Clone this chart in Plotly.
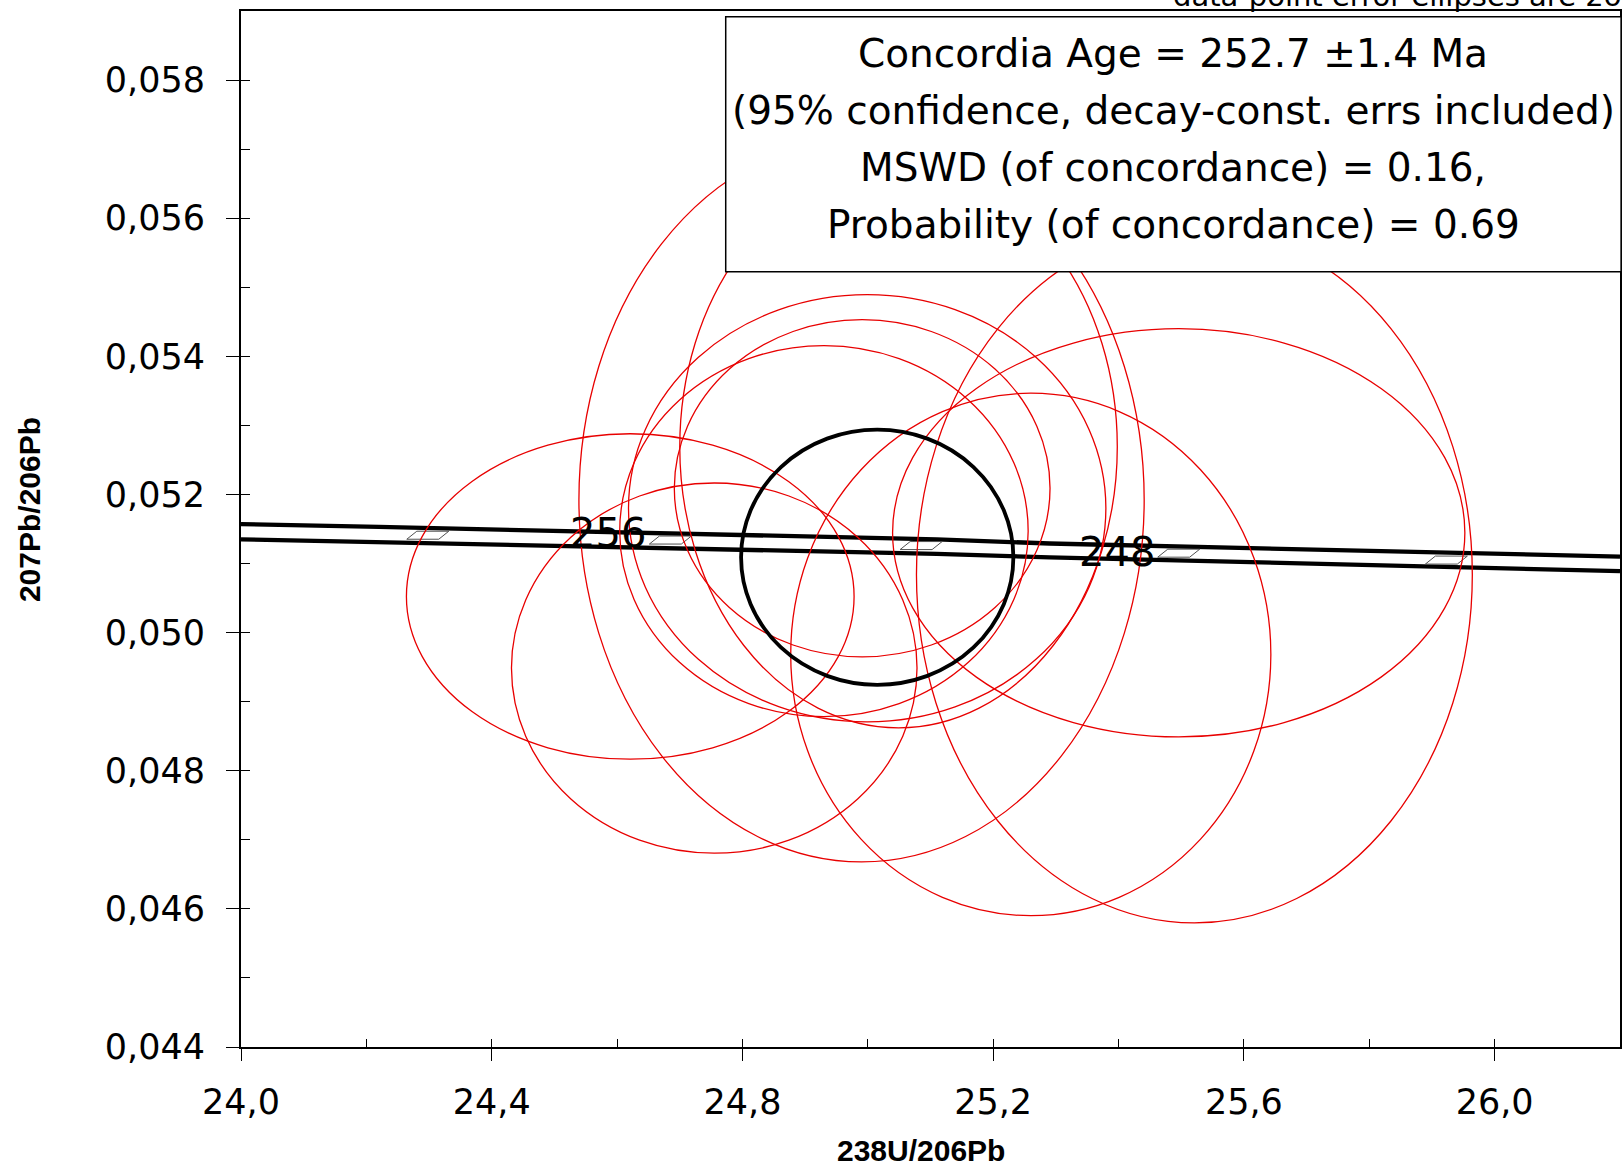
import plotly.graph_objects as go

# ---------------- data ----------------
# Concordia band (decay-constant error envelope), 238U/206Pb vs 207Pb/206Pb
conc_x = [24.0, 24.22, 25.11, 25.29, 26.2]
conc_upper = [0.05157, 0.05153, 0.05135, 0.05129, 0.05110]
conc_lower = [0.05135, 0.05131, 0.05114, 0.05109, 0.05089]

# Age tick marks on the concordia (Ma)
age_values = [260, 256, 252, 248, 244]
age_x = [24.298, 24.685, 25.085, 25.496, 25.923]
age_y = [0.05141, 0.05134, 0.05126, 0.05115, 0.05105]
age_labelled = [256, 248]

# Data-point error ellipses (centre, semi-axes)
ell_cx = [24.621, 24.755, 24.990, 25.049, 24.999, 24.991, 24.930, 25.260, 25.521, 25.496]
ell_cy = [0.050523, 0.049486, 0.051923, 0.052691, 0.051800, 0.052090, 0.051469, 0.049684, 0.050837, 0.051445]
ell_rx = [0.3571, 0.3235, 0.4509, 0.3490, 0.3808, 0.2997, 0.3258, 0.3830, 0.4434, 0.4565]
ell_ry = [0.002356, 0.002680, 0.005244, 0.004070, 0.003093, 0.002441, 0.002686, 0.003782, 0.005041, 0.002955]

# Concordia age ellipse
mean_cx, mean_cy, mean_rx, mean_ry = 25.015, 0.051091, 0.2172, 0.001847

x_ticks = [24.0, 24.4, 24.8, 25.2, 25.6, 26.0]
y_ticks = [0.044, 0.046, 0.048, 0.050, 0.052, 0.054, 0.056, 0.058]

box_lines = [
    "Concordia Age = 252.7 ±1.4 Ma",
    "(95% confidence, decay-const. errs included)",
    "MSWD (of concordance) = 0.16,",
    "Probability (of concordance) = 0.69",
]
top_note = "data-point error ellipses are 2σ"
x_title = "238U/206Pb"
y_title = "207Pb/206Pb"

# ---------------- figure ----------------
FONT = "DejaVu Sans"
fig = go.Figure()

fig.add_trace(go.Scatter(x=conc_x, y=conc_upper, mode="lines",
                         line=dict(color="black", width=4.3), hoverinfo="skip", showlegend=False))
fig.add_trace(go.Scatter(x=conc_x, y=conc_lower, mode="lines",
                         line=dict(color="black", width=4.3), hoverinfo="skip", showlegend=False))
# invisible trace for the overlay axes (inside minor ticks)
fig.add_trace(go.Scatter(x=[None], y=[None], xaxis="x2", yaxis="y2", showlegend=False, hoverinfo="skip"))

shapes = []
# age markers on concordia
dxa, dxb, dy = 0.0335, 0.0175, 0.000058
for ax_, ay_ in zip(age_x, age_y):
    path = (f"M {ax_-dxa},{ay_-dy} L {ax_+dxb},{ay_-dy} "
            f"L {ax_+dxa},{ay_+dy} L {ax_-dxb},{ay_+dy} Z")
    shapes.append(dict(type="path", path=path, xref="x", yref="y",
                       line=dict(color="rgb(80,80,80)", width=1), layer="above"))

for cx, cy, rx, ry in zip(ell_cx, ell_cy, ell_rx, ell_ry):
    shapes.append(dict(type="circle", xref="x", yref="y",
                       x0=cx - rx, x1=cx + rx, y0=cy - ry, y1=cy + ry,
                       line=dict(color="rgb(232,0,0)", width=1.3), layer="above"))

shapes.append(dict(type="circle", xref="x", yref="y",
                   x0=mean_cx - mean_rx, x1=mean_cx + mean_rx,
                   y0=mean_cy - mean_ry, y1=mean_cy + mean_ry,
                   line=dict(color="black", width=3.8), layer="above"))

# result box
shapes.append(dict(type="rect", xref="paper", yref="paper",
                   x0=0.3515, x1=1.0008, y0=0.7484, y1=0.9945,
                   fillcolor="white", line=dict(color="black", width=1.5), layer="above"))

annotations = []
box_y = [0.9585, 0.9035, 0.8485, 0.7944]
for txt, yy in zip(box_lines, box_y):
    annotations.append(dict(text=txt, x=0.6762, y=yy, xref="paper", yref="paper",
                            xanchor="center", yanchor="middle", showarrow=False,
                            font=dict(family=FONT, size=39, color="black")))

label_yshift = {256: 7, 248: 1}
for age in age_labelled:
    i = age_values.index(age)
    annotations.append(dict(text=str(age), x=age_x[i], y=age_y[i], xref="x", yref="y",
                            xanchor="right", yanchor="middle", xshift=-22,
                            yshift=label_yshift[age],
                            showarrow=False, font=dict(family=FONT, size=40, color="black")))

annotations.append(dict(text=top_note, x=1.003, y=1.0145, xref="paper", yref="paper",
                        xanchor="right", yanchor="middle", showarrow=False,
                        font=dict(family=FONT, size=29, color="black")))
annotations.append(dict(text=f"<b>{x_title}</b>", x=0.4932, y=-0.0995, xref="paper", yref="paper",
                        xanchor="center", yanchor="middle", showarrow=False,
                        font=dict(family="Liberation Sans", size=30, color="black")))
annotations.append(dict(text=f"<b>{y_title}</b>", x=-0.1537, y=0.5183, xref="paper", yref="paper",
                        xanchor="center", yanchor="middle", showarrow=False, textangle=-90,
                        font=dict(family="Liberation Sans", size=30, color="black")))

fig.update_layout(
    width=1624, height=1168,
    margin=dict(l=241, r=4, t=11, b=121, autoexpand=False),
    paper_bgcolor="white", plot_bgcolor="white",
    separators=",.",
    showlegend=False,
    shapes=shapes,
    annotations=annotations,
    xaxis=dict(range=[24.0, 26.2], tickvals=x_ticks, tickformat=".1f",
               ticks="outside", ticklen=12, tickwidth=1, tickcolor="black",
               showline=True, linewidth=2, linecolor="black", mirror=True,
               showgrid=False, zeroline=False, ticklabelstandoff=11,
               tickfont=dict(family=FONT, size=35, color="black")),
    yaxis=dict(range=[0.044, 0.059], tickvals=y_ticks, tickformat=".3f",
               ticks="outside", ticklen=13, tickwidth=1, tickcolor="black",
               showline=True, linewidth=2, linecolor="black", mirror=True,
               showgrid=False, zeroline=False, ticklabelstandoff=14,
               tickfont=dict(family=FONT, size=35, color="black")),
    xaxis2=dict(overlaying="x", anchor="y", side="bottom", range=[24.0, 26.2],
                tick0=24.0, dtick=0.2, ticks="inside", ticklen=8, tickwidth=1, tickcolor="black",
                showticklabels=False, showline=False, showgrid=False, zeroline=False),
    yaxis2=dict(overlaying="y", anchor="x", side="left", range=[0.044, 0.059],
                tick0=0.044, dtick=0.001, ticks="inside", ticklen=9, tickwidth=1, tickcolor="black",
                showticklabels=False, showline=False, showgrid=False, zeroline=False),
)

fig.write_html("out.html", config={"displayModeBar": False},
               post_script="document.body.style.margin='0';")
